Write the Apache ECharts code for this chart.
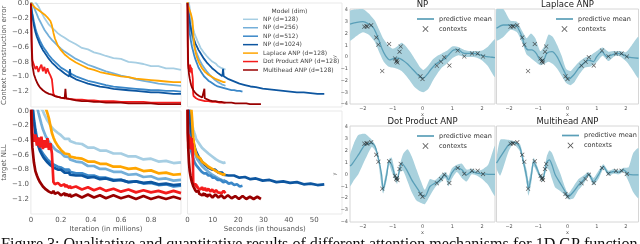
<!DOCTYPE html>
<html><head><meta charset="utf-8">
<script src="https://cdn.jsdelivr.net/npm/echarts@6/dist/echarts.min.js"></script>
<style>html,body{margin:0;padding:0;background:#fff}#c{width:640px;height:244px}</style>
</head><body><div id="c"></div>
<script>
// ---------- learning curves ----------
const models = ['NP (d=128)','NP (d=256)','NP (d=512)','NP (d=1024)','Laplace ANP (d=128)','Dot Product ANP (d=128)','Multihead ANP (d=128)'];
const modelColors = ['#a6cee3','#74afd9','#3a87c8','#0d56a0','#ffa500','#f41c1c','#980000'];
const iterations = [0,0.005,0.01,0.02,0.03,0.04,0.05,0.06,0.07,0.08,0.09,0.1,0.11,0.12,0.13,0.14,0.15,0.16,0.18,0.2,0.225,0.23,0.235,0.255,0.26,0.265,0.3,0.34,0.38,0.42,0.46,0.5,0.55,0.6,0.65,0.7,0.75,0.8,0.85,0.9,0.95,1.0];
// total wall-clock time (thousands of seconds) of each run
const runSeconds = [15,15,21.7,54,15,15,29];

const ctxNP128 = [0.1,0.09,0.08,0.05,0.02,0.0,-0.04,-0.08,-0.12,-0.16,-0.2,-0.23,-0.26,-0.29,-0.31,-0.33,-0.35,-0.37,-0.41,-0.44,-0.47,-0.48,-0.48,-0.51,-0.52,-0.52,-0.56,-0.61,-0.63,-0.67,-0.69,-0.72,-0.75,-0.76,-0.8,-0.81,-0.83,-0.86,-0.86,-0.89,-0.89,-0.91];
const ctxNP256 = [0.05,0.03,0.0,-0.05,-0.1,-0.15,-0.2,-0.24,-0.28,-0.32,-0.36,-0.39,-0.42,-0.45,-0.47,-0.5,-0.52,-0.54,-0.58,-0.62,-0.66,-0.67,-0.67,-0.7,-0.71,-0.71,-0.76,-0.8,-0.84,-0.87,-0.9,-0.93,-0.96,-0.99,-1.01,-1.04,-1.06,-1.08,-1.1,-1.11,-1.12,-1.13];
const ctxNP512 = [0.02,-0.08,-0.14,-0.25,-0.34,-0.41,-0.46,-0.51,-0.55,-0.59,-0.62,-0.65,-0.68,-0.71,-0.73,-0.76,-0.78,-0.8,-0.84,-0.88,-0.91,-0.92,-0.92,-0.95,-0.96,-0.96,-1.0,-1.03,-1.06,-1.08,-1.1,-1.12,-1.14,-1.15,-1.16,-1.17,-1.18,-1.19,-1.19,-1.2,-1.2,-1.21];
const ctxNP1024 = [0.0,-0.1,-0.17,-0.3,-0.39,-0.46,-0.51,-0.56,-0.6,-0.64,-0.67,-0.7,-0.73,-0.76,-0.78,-0.81,-0.83,-0.85,-0.89,-0.92,-0.96,-0.97,-0.97,-1.0,-0.9,-1.0,-1.04,-1.07,-1.1,-1.12,-1.14,-1.15,-1.17,-1.18,-1.19,-1.2,-1.21,-1.22,-1.22,-1.23,-1.24,-1.24];
const ctxLaplace = [0.02,0.0,-0.02,-0.04,-0.06,-0.08,-0.09,-0.11,-0.12,-0.14,-0.15,-0.17,-0.19,-0.21,-0.24,-0.3,-0.4,-0.48,-0.58,-0.64,-0.7,-0.71,-0.72,-0.75,-0.76,-0.76,-0.81,-0.85,-0.89,-0.91,-0.94,-0.96,-0.98,-1.0,-1.01,-1.03,-1.04,-1.05,-1.06,-1.07,-1.08,-1.08];
const ctxDot = [0.0,-0.5,-0.78,-0.84,-0.9,-0.86,-0.94,-0.88,-0.84,-0.93,-0.87,-0.96,-0.89,-0.95,-0.99,-1.04,-1.24,-1.27,-1.28,-1.29,-1.3,-1.3,-1.3,-1.31,-1.31,-1.31,-1.32,-1.32,-1.33,-1.33,-1.34,-1.34,-1.34,-1.35,-1.35,-1.35,-1.35,-1.36,-1.36,-1.36,-1.36,-1.36];
const ctxMulti = [0.0,-0.6,-0.85,-0.97,-1.03,-1.08,-1.12,-1.15,-1.17,-1.19,-1.2,-1.22,-1.23,-1.24,-1.25,-1.25,-1.26,-1.27,-1.28,-1.29,-1.3,-1.17,-1.3,-1.31,-1.32,-1.32,-1.33,-1.34,-1.34,-1.35,-1.35,-1.36,-1.36,-1.36,-1.37,-1.37,-1.37,-1.37,-1.38,-1.38,-1.38,-1.38];

const nllNP128 = [0.4,0.38,0.35,0.3,0.24,0.18,0.12,0.07,0.03,0.0,-0.05,-0.09,-0.13,-0.16,-0.2,-0.22,-0.25,-0.27,-0.3,-0.33,-0.38,-0.36,-0.39,-0.38,-0.41,-0.39,-0.44,-0.45,-0.5,-0.5,-0.54,-0.54,-0.58,-0.58,-0.62,-0.62,-0.66,-0.65,-0.69,-0.68,-0.71,-0.7];
const nllNP256 = [0.4,0.35,0.3,0.22,0.14,0.07,-0.02,-0.1,-0.18,-0.25,-0.3,-0.35,-0.38,-0.42,-0.44,-0.47,-0.49,-0.52,-0.55,-0.57,-0.62,-0.6,-0.63,-0.63,-0.66,-0.64,-0.69,-0.7,-0.75,-0.75,-0.79,-0.79,-0.83,-0.83,-0.87,-0.86,-0.9,-0.89,-0.93,-0.92,-0.95,-0.94];
const nllNP512 = [0.3,0.2,0.1,-0.1,-0.25,-0.36,-0.44,-0.5,-0.55,-0.58,-0.61,-0.63,-0.66,-0.67,-0.7,-0.7,-0.73,-0.73,-0.76,-0.77,-0.8,-0.78,-0.81,-0.8,-0.83,-0.81,-0.85,-0.85,-0.88,-0.88,-0.91,-0.91,-0.94,-0.94,-0.97,-0.96,-0.99,-0.98,-1.01,-1.0,-1.03,-1.02];
const nllNP1024 = [0.25,0.15,0.05,-0.15,-0.3,-0.4,-0.48,-0.54,-0.58,-0.62,-0.65,-0.67,-0.7,-0.71,-0.74,-0.74,-0.77,-0.77,-0.8,-0.8,-0.84,-0.82,-0.85,-0.84,-0.87,-0.85,-0.88,-0.88,-0.91,-0.9,-0.93,-0.92,-0.95,-0.94,-0.97,-0.96,-0.98,-0.97,-1.0,-0.99,-1.01,-1.0];
const nllLaplace = [0.6,0.58,0.56,0.5,0.45,0.4,0.33,0.27,0.2,0.12,0.06,0.03,-0.03,-0.1,-0.2,-0.3,-0.36,-0.41,-0.48,-0.53,-0.58,-0.56,-0.59,-0.59,-0.62,-0.6,-0.64,-0.65,-0.69,-0.69,-0.72,-0.72,-0.76,-0.76,-0.79,-0.78,-0.82,-0.81,-0.85,-0.84,-0.87,-0.86];
const nllDot = [0.3,-0.1,-0.3,-0.42,-0.32,-0.47,-0.36,-0.5,-0.35,-0.52,-0.4,-0.5,-0.37,-0.53,-0.44,-0.58,-0.97,-1.0,-0.98,-1.02,-1.0,-1.04,-1.01,-1.05,-1.02,-1.05,-1.03,-1.07,-1.04,-1.08,-1.05,-1.09,-1.06,-1.1,-1.07,-1.11,-1.08,-1.11,-1.09,-1.12,-1.09,-1.12];
const nllMulti = [0.2,-0.3,-0.5,-0.7,-0.82,-0.88,-0.93,-0.97,-0.99,-1.03,-1.03,-1.07,-1.06,-1.1,-1.08,-1.12,-1.09,-1.13,-1.11,-1.15,-1.12,-1.16,-1.13,-1.16,-1.13,-1.17,-1.14,-1.18,-1.14,-1.18,-1.15,-1.19,-1.15,-1.19,-1.16,-1.2,-1.16,-1.2,-1.17,-1.2,-1.17,-1.2];

const errTicks = [0,-0.2,-0.4,-0.6,-0.8,-1.0,-1.2];
const iterTicks = [0,0.2,0.4,0.6,0.8];
const secTicks = [0,10,20,30,40,50];

// ---------- GP panels ----------
const gpTitles = ['NP','Laplace ANP','Dot Product ANP','Multihead ANP'];
const gpXTicks = [-2,-1,0,1,2];
const gpYTicks = [-4,-3,-2,-1,0,1,2,3,4];
const contextX = [-1.95,-1.88,-1.85,-1.72,-1.55,-1.48,-1.35,-1.12,-0.92,-0.88,-0.84,-0.86,-0.77,-0.73,-0.07,0.0,0.48,0.62,0.73,0.9,1.18,1.4,1.66,1.85,2.03];
const contextY = [2.58,2.62,2.6,2.7,1.65,1.05,-1.2,1.1,-0.12,-0.38,-0.48,-0.3,0.45,0.88,-1.65,-1.88,-0.74,-0.4,-0.03,-0.72,0.54,0.05,0.3,0.3,0.03];

const npMeanX = [-2.43,-2.2,-2.0,-1.8,-1.65,-1.55,-1.45,-1.35,-1.25,-1.1,-0.95,-0.8,-0.65,-0.5,-0.35,-0.2,-0.08,0.03,0.15,0.3,0.45,0.6,0.75,0.9,1.05,1.2,1.35,1.5,1.7,1.9,2.1,2.25,2.43];
const npMeanY = [2.8,2.95,3.0,2.8,2.5,2.0,1.35,0.65,0.15,-0.25,-0.12,-0.1,-0.3,-0.6,-1.0,-1.4,-1.7,-1.8,-1.5,-1.0,-0.6,-0.35,-0.15,0.25,0.6,0.62,0.35,0.3,0.3,0.2,0.05,0.0,-0.05];
const npBandX = [-2.43,-2.2,-2.0,-1.8,-1.6,-1.45,-1.3,-1.15,-1.0,-0.85,-0.7,-0.55,-0.4,-0.25,-0.1,0.03,0.2,0.35,0.5,0.65,0.8,1.0,1.2,1.4,1.6,1.8,2.0,2.2,2.43];
const npBandHi = [3.9,4.05,4.08,3.7,3.1,2.3,1.5,1.0,0.7,0.9,1.2,0.9,0.4,-0.2,-0.8,-1.1,-0.7,-0.2,0.1,0.3,0.5,0.9,0.85,0.6,0.5,0.5,0.55,0.9,1.5];
const npBandLo = [1.4,1.8,2.1,1.9,1.3,0.4,-0.4,-0.8,-0.9,-1.0,-1.2,-1.6,-2.1,-2.6,-2.9,-3.0,-2.7,-2.0,-1.4,-0.9,-0.6,-0.1,0.15,0.0,0.0,-0.05,-0.3,-0.8,-1.7];

const lapMeanX = [-2.43,-2.2,-1.96,-1.73,-1.56,-1.45,-1.34,-1.22,-1.07,-0.93,-0.82,-0.71,-0.53,-0.36,-0.19,-0.05,0.03,0.21,0.38,0.55,0.72,0.89,1.0,1.18,1.35,1.52,1.69,1.86,2.03,2.2,2.43];
const lapMeanY = [2.44,2.72,2.72,2.58,1.73,0.88,0.6,0.6,0.31,-0.26,-0.26,0.31,0.45,0.03,-0.83,-1.53,-1.9,-1.53,-0.96,-0.54,-0.26,-0.4,0.03,0.45,0.03,0.17,0.31,0.25,0.03,-0.05,-0.11];
const lapBandX = [-2.43,-2.2,-1.96,-1.73,-1.55,-1.4,-1.25,-1.1,-0.93,-0.8,-0.65,-0.5,-0.35,-0.2,-0.05,0.1,0.25,0.4,0.6,0.8,1.0,1.2,1.4,1.6,1.8,2.0,2.2,2.43];
const lapBandHi = [4.08,4.08,3.1,3.0,2.2,1.6,2.0,1.6,0.5,0.9,1.9,1.7,1.0,0.1,-1.0,-1.2,-0.8,-0.4,-0.05,0.15,0.5,0.8,0.45,0.5,0.5,0.4,1.0,1.7];
const lapBandLo = [1.4,1.7,2.3,2.1,1.2,0.2,-0.1,-0.4,-0.7,-0.6,-0.4,-0.6,-1.0,-1.6,-2.2,-2.4,-2.1,-1.5,-0.9,-0.8,-0.45,0.1,-0.35,0.05,0.05,-0.35,-1.0,-1.8];

const dotMeanX = [-2.43,-2.38,-2.15,-1.93,-1.7,-1.59,-1.48,-1.37,-1.32,-1.2,-1.12,-1.03,-0.92,-0.85,-0.76,-0.7,-0.53,-0.36,-0.14,-0.03,0.08,0.25,0.42,0.53,0.64,0.76,0.87,0.98,1.15,1.32,1.48,1.65,1.82,2.0,2.2,2.43];
const dotMeanY = [0.7,0.79,1.63,2.47,2.61,2.33,1.36,-0.04,-1.3,-0.04,1.07,0.79,-0.18,-0.46,0.52,0.94,0.38,-0.46,-1.3,-1.72,-1.86,-1.02,-0.74,-0.6,-0.32,-0.04,-0.46,0.1,0.57,0.38,-0.04,0.24,0.1,0.05,0.0,0.0];
const dotBandX = [-2.43,-2.3,-2.15,-1.93,-1.7,-1.59,-1.48,-1.4,-1.32,-1.2,-1.12,-1.03,-0.92,-0.85,-0.76,-0.65,-0.5,-0.36,-0.2,-0.05,0.08,0.25,0.42,0.64,0.76,0.87,0.98,1.15,1.32,1.48,1.65,1.82,2.0,2.2,2.43];
const dotBandHi = [1.6,2.6,3.3,3.4,2.9,2.5,1.6,0.6,-0.9,0.5,1.3,1.4,0.2,-0.2,0.8,1.7,2.1,1.5,0.4,-0.6,-1.3,-0.4,-0.5,0.0,0.2,-0.1,0.5,0.8,0.9,0.4,0.5,0.3,0.4,0.8,2.4];
const dotBandLo = [-1.0,-0.5,0.0,1.2,2.3,2.0,1.0,-0.5,-1.6,-0.5,0.8,0.2,-0.5,-0.8,0.2,0.3,-0.6,-1.5,-2.2,-2.4,-2.5,-1.8,-1.1,-0.6,-0.3,-1.0,-0.4,0.2,-0.3,-0.6,0.0,-0.1,-0.4,-0.9,-1.8];

const mhMeanX = [-2.43,-2.25,-2.02,-1.85,-1.73,-1.62,-1.51,-1.39,-1.34,-1.25,-1.16,-1.05,-0.93,-0.84,-0.76,-0.71,-0.62,-0.53,-0.42,-0.25,-0.08,0.03,0.21,0.38,0.55,0.72,0.89,1.06,1.23,1.4,1.58,1.75,1.92,2.09,2.25,2.43];
const mhMeanY = [0.94,1.63,2.47,2.69,2.61,2.19,1.07,-0.32,-1.16,-0.32,1.07,0.52,-0.18,-0.32,0.52,1.02,1.21,0.79,-0.04,-0.74,-1.44,-1.86,-1.44,-0.88,-0.46,0.02,-0.6,-0.04,0.65,0.1,0.24,0.18,0.38,0.02,-0.04,-0.04];
const mhBandX = [-2.43,-2.3,-2.02,-1.85,-1.62,-1.51,-1.39,-1.34,-1.25,-1.16,-1.05,-0.93,-0.84,-0.71,-0.62,-0.53,-0.42,-0.25,-0.08,0.03,0.21,0.38,0.55,0.72,0.89,1.06,1.23,1.4,1.58,1.75,1.92,2.09,2.25,2.43];
const mhBandHi = [1.3,2.9,2.9,2.8,2.5,1.4,0.3,-0.6,0.3,1.4,0.8,0.0,-0.1,1.5,2.0,1.8,1.1,0.1,-1.1,-1.6,-1.0,-0.4,-0.1,0.2,-0.3,0.3,0.85,0.3,0.45,0.35,0.55,0.6,1.8,2.2];
const mhBandLo = [0.5,-0.1,1.9,2.55,1.9,0.7,-0.9,-1.8,-0.9,0.7,0.2,-0.4,-0.6,0.5,0.3,-0.4,-1.1,-1.4,-1.8,-2.1,-2.0,-1.3,-0.8,-0.15,-0.9,-0.4,0.45,-0.1,0.05,0.0,0.2,-0.6,-1.5,-2.0];

const caption = 'Figure 3: Qualitative and quantitative results of different attention mechanisms for 1D GP function';

// ---------- build ----------
const FONT = 'DejaVu Sans';
const LBL = '#555';
const bandColor = '#a9d1dd';
const meanColor = '#5a9fb8';
const minus = v => (v < 0 ? '\u2212' : '') + Math.abs(v);
const fmt1 = v => (v < 0 ? '\u2212' : '') + Math.abs(v).toFixed(1);
const lineIcon = 'path://M0,0 L20,0 L20,2 L0,2 Z';

const ctxAll = [ctxNP128, ctxNP256, ctxNP512, ctxNP1024, ctxLaplace, ctxDot, ctxMulti];
const nllAll = [nllNP128, nllNP256, nllNP512, nllNP1024, nllLaplace, nllDot, nllMulti];

const lgBorder = '#e9e9e9', gpBorder = '#d6d6d6';
const grids = [
  {left:26, top:3, width:155, height:104, borderColor:lgBorder},
  {left:26, top:111, width:155, height:103, borderColor:lgBorder},
  {left:187.5, top:3, width:154.5, height:104, borderColor:lgBorder},
  {left:187.5, top:111, width:154.5, height:103, borderColor:lgBorder},
  {left:350, top:9, width:145, height:95, borderColor:gpBorder},
  {left:496.5, top:9, width:142, height:95, borderColor:gpBorder},
  {left:350, top:126, width:145, height:96, borderColor:gpBorder},
  {left:496.5, top:126, width:142, height:96, borderColor:gpBorder}
].map(g => Object.assign({show:true, borderWidth:1, backgroundColor:'#fff'}, g));

const hidden = {axisLine:{show:false}, axisTick:{show:false}, splitLine:{show:false}};
function xAx(gi, min, max, ticks, fmt, name, fs, gap, margin) {
  return Object.assign({type:'value', gridIndex:gi, min, max}, hidden, {
    axisLabel: ticks ? {show:true, customValues:ticks, formatter:fmt, fontSize:fs, color:LBL, fontFamily:FONT, margin} : {show:false},
    name: name || '', nameLocation:'middle', nameGap:gap,
    nameTextStyle:{fontSize:fs, color:LBL, fontFamily:FONT}
  });
}
function yAx(gi, min, max, ticks, fmt, name, fs, gap, margin) {
  return Object.assign({type:'value', gridIndex:gi, min, max}, hidden, {
    axisLabel: ticks ? {show:true, customValues:ticks, formatter:fmt, fontSize:fs, color:LBL, fontFamily:FONT, margin} : {show:false},
    name: name || '', nameLocation:'middle', nameGap:gap, nameRotate:90,
    nameTextStyle:{fontSize:fs, color:LBL, fontFamily:FONT}
  });
}

const xAxis = [
  xAx(0, 0, 1, null),
  xAx(1, 0, 1, iterTicks, minus, 'Iteration (in millions)', 7, 12, 3),
  xAx(2, 0, 61, null),
  xAx(3, 0, 61, secTicks, minus, 'Seconds (in thousands)', 7, 12, 3),
  xAx(4, -2.43, 2.43, gpXTicks, minus, 'x', 5, 7, 2),
  xAx(5, -2.43, 2.43, gpXTicks, minus, 'x', 5, 7, 2),
  xAx(6, -2.43, 2.43, gpXTicks, minus, 'x', 5, 7, 2),
  xAx(7, -2.43, 2.43, gpXTicks, minus, 'x', 5, 7, 2)
];
const yAxis = [
  yAx(0, -1.42, 0, errTicks, fmt1, 'Context reconstruction error', 7, 19, 2),
  yAx(1, -1.405, 0, errTicks, fmt1, 'target NLL', 7, 19, 2),
  yAx(2, -1.42, 0, null),
  yAx(3, -1.405, 0, null),
  yAx(4, -4, 4.08, gpYTicks, minus, 'y', 5, 6, 2),
  yAx(5, -4, 4.08, null),
  yAx(6, -4, 4.06, gpYTicks, minus, 'y', 5, 6, 2),
  yAx(7, -4, 4.06, null)
];

const series = [];
const panels = [
  {gi:0, vals:ctxAll, seconds:false, w:1.8},
  {gi:1, vals:nllAll, seconds:false, w:2.7},
  {gi:2, vals:ctxAll, seconds:true, w:1.8},
  {gi:3, vals:nllAll, seconds:true, w:2.7}
];
panels.forEach(p => {
  models.forEach((m, k) => {
    series.push({
      type:'line', name:m, xAxisIndex:p.gi, yAxisIndex:p.gi, symbol:'none', showSymbol:false,
      clip:true, silent:true, color:modelColors[k],
      lineStyle:{width:p.w, color:modelColors[k]},
      data: iterations.map((v, i) => [p.seconds ? v * runSeconds[k] : v, p.vals[k][i]])
    });
  });
});

const gp = [
  {mx:npMeanX, my:npMeanY, bx:npBandX, lo:npBandLo, hi:npBandHi},
  {mx:lapMeanX, my:lapMeanY, bx:lapBandX, lo:lapBandLo, hi:lapBandHi},
  {mx:dotMeanX, my:dotMeanY, bx:dotBandX, lo:dotBandLo, hi:dotBandHi},
  {mx:mhMeanX, my:mhMeanY, bx:mhBandX, lo:mhBandLo, hi:mhBandHi}
];
const xPath = 'path://M1,0 L5,4 L9,0 L10,1 L6,5 L10,9 L9,10 L5,6 L1,10 L0,9 L4,5 L0,1 Z';
gp.forEach((g, j) => {
  const gi = 4 + j;
  series.push({
    type:'custom', name:'band', xAxisIndex:gi, yAxisIndex:gi, clip:true, silent:true, z:1,
    data:[[g.bx[0], g.lo[0]]],
    renderItem(params, api) {
      const pts = [];
      for (let i = 0; i < g.bx.length; i++) pts.push(api.coord([g.bx[i], g.hi[i]]));
      for (let i = g.bx.length - 1; i >= 0; i--) pts.push(api.coord([g.bx[i], g.lo[i]]));
      return {type:'polygon', shape:{points:pts, smooth:0.2}, style:{fill:bandColor}};
    }
  });
  series.push({
    type:'line', name:'predictive mean', xAxisIndex:gi, yAxisIndex:gi, symbol:'none', showSymbol:false,
    smooth:0.25, clip:true, silent:true, z:2, color:meanColor,
    lineStyle:{width:1.3, color:meanColor},
    data: g.mx.map((x, i) => [x, g.my[i]])
  });
  series.push({
    type:'scatter', name:'contexts', xAxisIndex:gi, yAxisIndex:gi, symbol:xPath, symbolSize:4.5,
    silent:true, z:3, itemStyle:{color:'#2a2a2a'},
    data: contextX.map((x, i) => [x, contextY[i]])
  });
});

const gpLegend = (left, top) => ({
  data:[{name:'predictive mean', icon:lineIcon}, {name:'contexts'}], orient:'vertical', left, top, padding:0,
  itemWidth:17, itemHeight:6, itemGap:3, selectedMode:false,
  textStyle:{fontSize:6.5, color:'#333', fontFamily:FONT, lineHeight:6}
});

const option = {
  animation:false,
  backgroundColor:'#fff',
  grid:grids, xAxis, yAxis, series,
  legend:[
    {data:models.map(m => ({name:m, icon:lineIcon})), orient:'vertical', left:243, top:15.3, padding:0, itemWidth:15, itemHeight:8, itemGap:0.45,
     selectedMode:false, textStyle:{fontSize:6, color:'#444', fontFamily:FONT, lineHeight:8}},
    gpLegend(417, 15.5), gpLegend(556, 15.5), gpLegend(417, 132.5), gpLegend(562, 132)
  ],
  graphic:[
    {type:'text', x:289.5, y:11, style:{text:'Model (dim)', font:'6px "DejaVu Sans"', fill:'#444', align:'center', verticalAlign:'middle'}},
    {type:'text', x:422.5, y:5, style:{text:gpTitles[0], font:'8.5px "DejaVu Sans"', fill:'#222', align:'center', verticalAlign:'middle'}},
    {type:'text', x:567.5, y:5, style:{text:gpTitles[1], font:'8.5px "DejaVu Sans"', fill:'#222', align:'center', verticalAlign:'middle'}},
    {type:'text', x:422.5, y:122, style:{text:gpTitles[2], font:'8.5px "DejaVu Sans"', fill:'#222', align:'center', verticalAlign:'middle'}},
    {type:'text', x:567.5, y:122, style:{text:gpTitles[3], font:'8.5px "DejaVu Sans"', fill:'#222', align:'center', verticalAlign:'middle'}},
    {type:'text', x:1, y:236.5, style:{text:caption, font:'16.1px "Liberation Serif"', fill:'#111', align:'left', verticalAlign:'top'}}
  ]
};
const chart = echarts.init(document.getElementById('c'), null, {renderer:'canvas'});
chart.setOption(option);
</script></body></html>
